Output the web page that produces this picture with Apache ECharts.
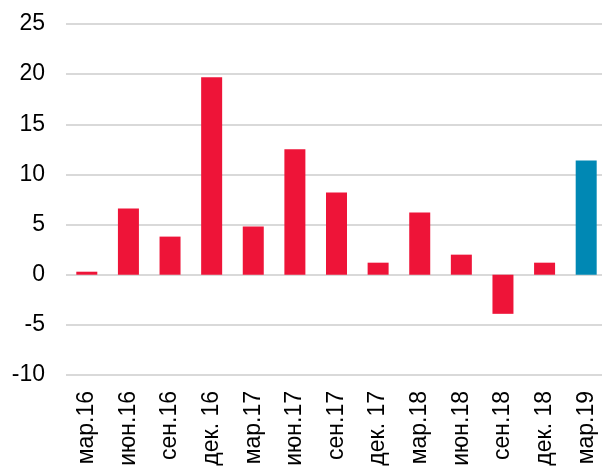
<!DOCTYPE html>
<html>
<head>
<meta charset="utf-8">
<script src="https://cdn.jsdelivr.net/npm/echarts@6/dist/echarts.min.js"></script>
<style>
  html, body { margin: 0; padding: 0; background: #fff; }
  #chart { width: 602px; height: 469px; }
</style>
</head>
<body>
<div id="chart"></div>
<script>
const categories = ["мар.16", "июн.16", "сен.16", "дек. 16", "мар.17", "июн.17", "сен.17", "дек. 17", "мар.18", "июн.18", "сен.18", "дек. 18", "мар.19"];
const values = [0.3, 6.6, 3.8, 19.7, 4.8, 12.5, 8.2, 1.2, 6.2, 2.0, -3.9, 1.2, 11.4];
const highlightIndex = 12;

const red = "#EE1438";
const blue = "#0088B4";

const myChart = echarts.init(document.getElementById("chart"));
myChart.setOption({
  animation: false,
  grid: {
    left: 66, top: 24, right: -5, bottom: 94,
    containLabel: false, outerBoundsMode: "none",
  },
  xAxis: {
    type: "category",
    data: categories,
    axisLine: { show: false },
    axisTick: { show: false },
    axisLabel: {
      interval: 0,
      rotate: 90,
      margin: 16,
      fontSize: 23,
      fontFamily: "Liberation Sans, Arial, sans-serif",
      color: "#000",
    },
  },
  yAxis: {
    type: "value",
    min: -10,
    max: 25,
    interval: 5,
    axisLine: { show: false },
    axisTick: { show: false },
    splitLine: { lineStyle: { color: "#d9d9d9", width: 2 } },
    axisLabel: {
      margin: 21,
      fontSize: 23,
      fontFamily: "Liberation Sans, Arial, sans-serif",
      color: "#000",
    },
  },
  series: [
    {
      type: "bar",
      barWidth: 21,
      data: values.map((v, i) => ({
        value: v,
        itemStyle: { color: i === highlightIndex ? blue : red },
      })),
    },
  ],
});
</script>
</body>
</html>
